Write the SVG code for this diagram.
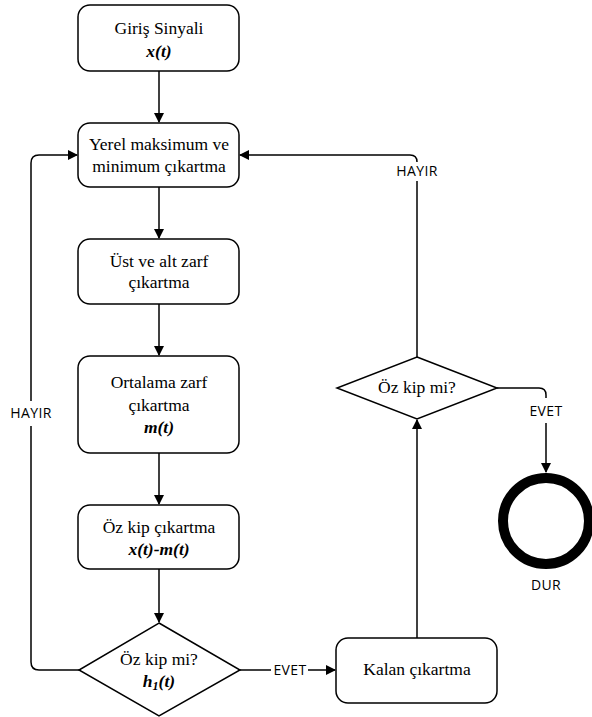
<svg xmlns="http://www.w3.org/2000/svg" width="592" height="717" viewBox="0 0 592 717">
<style>
.box{fill:#fff;stroke:#000;stroke-width:1.5}
.t{font-family:'Liberation Serif','Times New Roman',serif;font-size:17.5px;text-anchor:middle;fill:#000}
.b{font-weight:bold;font-style:italic}
.lbl{font-family:'Open Sans','DejaVu Sans',sans-serif;font-size:14px;letter-spacing:0.4px;text-anchor:middle;fill:#000}
.c{fill:none;stroke:#000;stroke-width:1.5}
</style>
<defs>
<marker id="ah" markerWidth="10" markerHeight="10" refX="9" refY="5" orient="auto" markerUnits="userSpaceOnUse">
<path d="M0,0 L10,5 L0,10 Z" fill="#000"/>
</marker>
</defs>
<rect width="592" height="717" fill="#fff"/>
<g id="connectors">
<path class="c" d="M159,71 V122" marker-end="url(#ah)"/>
<path class="c" d="M159,187 V238" marker-end="url(#ah)"/>
<path class="c" d="M159,304 V355" marker-end="url(#ah)"/>
<path class="c" d="M159,453 V504" marker-end="url(#ah)"/>
<path class="c" d="M159,569 V622" marker-end="url(#ah)"/>
<path class="c" d="M79,670 H39 Q31,670 31,662 V426"/>
<path class="c" d="M31,401 V163 Q31,155 39,155 H77" marker-end="url(#ah)"/>
<path class="c" d="M240,670 H271"/>
<path class="c" d="M308,670 H335" marker-end="url(#ah)"/>
<path class="c" d="M417,638 V420" marker-end="url(#ah)"/>
<path class="c" d="M417,357 V181"/>
<path class="c" d="M417,162 Q417,155 410,155 H240" marker-end="url(#ah)"/>
<path class="c" d="M497,388 H539 Q546,388 546,395 V398"/>
<path class="c" d="M546,423 V472" marker-end="url(#ah)"/>
<text class="lbl" x="31" y="418">HAYIR</text>
<text class="lbl" x="290" y="675">EVET</text>
<text class="lbl" x="417" y="176">HAYIR</text>
<text class="lbl" x="546" y="416">EVET</text>
</g>
<g id="n1">
<rect class="box" x="78" y="5" width="161" height="66" rx="12"/>
<text class="t" x="159" y="34">Giriş Sinyali</text>
<text class="t b" x="159" y="57">x(t)</text>
</g>
<g id="n2">
<rect class="box" x="78" y="123" width="161" height="64" rx="12"/>
<text class="t" x="159" y="150">Yerel maksimum ve</text>
<text class="t" x="159" y="172">minimum çıkartma</text>
</g>
<g id="n3">
<rect class="box" x="78" y="239" width="161" height="65" rx="12"/>
<text class="t" x="159" y="267">Üst ve alt zarf</text>
<text class="t" x="159" y="288">çıkartma</text>
</g>
<g id="n4">
<rect class="box" x="78" y="356" width="161" height="97" rx="12"/>
<text class="t" x="159" y="388">Ortalama zarf</text>
<text class="t" x="159" y="411">çıkartma</text>
<text class="t b" x="159" y="433">m(t)</text>
</g>
<g id="n5">
<rect class="box" x="78" y="505" width="161" height="64" rx="12"/>
<text class="t" x="159" y="533">Öz kip çıkartma</text>
<text class="t b" x="159" y="555">x(t)-m(t)</text>
</g>
<g id="d1">
<polygon class="box" points="159,623 240,670 159,716 79,670"/>
<text class="t" x="159" y="665">Öz kip mi?</text>
<text class="t b" x="159" y="687">h<tspan font-size="12" dy="3">1</tspan><tspan dy="-3">(t)</tspan></text>
</g>
<g id="n6">
<rect class="box" x="336" y="638" width="161" height="65" rx="12"/>
<text class="t" x="417" y="675">Kalan çıkartma</text>
</g>
<g id="d2">
<polygon class="box" points="417,357 497,388 417,419 337,388"/>
<text class="t" x="417" y="393">Öz kip mi?</text>
</g>
<g id="stop">
<circle cx="546" cy="521" r="43" fill="none" stroke="#000" stroke-width="10"/>
<text class="lbl" x="546" y="590">DUR</text>
</g>
</svg>
